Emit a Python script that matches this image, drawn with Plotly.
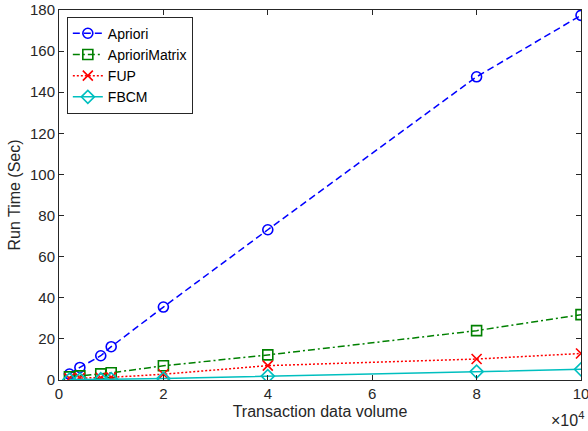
import plotly.graph_objects as go

x_vals = [2000, 4000, 8000, 10000, 20000, 40000, 80000, 100000]
apriori = [2.9, 6.1, 11.8, 16.2, 35.5, 73.1, 147.5, 177.4]
apriori_matrix = [1.5, 2.0, 3.0, 3.5, 6.9, 12.2, 24.0, 31.8]
fup = [0.8, 1.0, 1.1, 1.3, 2.8, 7.0, 10.2, 12.9]
fbcm = [0.2, 0.3, 0.4, 0.4, 0.7, 1.9, 4.1, 5.2]

x_ticks = [0, 20000, 40000, 60000, 80000, 100000]
x_tick_labels = ["0", "2", "4", "6", "8", "10"]
y_ticks = list(range(0, 181, 20))

series = [
    ("Apriori", apriori, "#0000ff", "7px,4px", "circle-open"),
    ("AprioriMatrix", apriori_matrix, "#008000", "7px,3px,2px,3px", "square-open"),
    ("FUP", fup, "#ff0000", "2px,2px", "x-thin-open"),
    ("FBCM", fbcm, "#00bfbf", "solid", "diamond-open"),
]

fig = go.Figure()
for name, ys, color, dash, sym in series:
    fig.add_trace(go.Scatter(
        x=x_vals, y=ys, name=name, mode="lines+markers",
        line=dict(color=color, dash=dash, width=1.5),
        marker=dict(symbol=sym, size=10, color=color,
                    line=dict(color=color, width=1.6)),
    ))

font_family = "Liberation Sans, Arial, sans-serif"
axis_common = dict(
    showline=True, linecolor="#262626", linewidth=1, mirror="ticks",
    ticks="inside", ticklen=5, tickcolor="#262626", showgrid=False,
    zeroline=False, automargin=False, ticklabeloverflow="allow",
    tickfont=dict(family=font_family, size=15, color="#262626"),
)

fig.update_layout(
    width=588, height=431,
    margin=dict(l=59, r=7, t=10, b=51, autoexpand=False),
    paper_bgcolor="white", plot_bgcolor="white",
    font=dict(family=font_family, color="#262626"),
    xaxis=dict(range=[0, 100000], tickvals=x_ticks, ticktext=x_tick_labels,
               title=dict(text="Transaction data volume", standoff=4,
                          font=dict(family=font_family, size=16, color="#262626")),
               **axis_common),
    yaxis=dict(range=[0, 180], tickvals=y_ticks,
               title=dict(text="Run Time (Sec)", standoff=5,
                          font=dict(family=font_family, size=16, color="#262626")),
               **axis_common),
    legend=dict(x=0.015, y=0.982, xanchor="left", yanchor="top",
                bgcolor="white", bordercolor="#262626", borderwidth=1,
                font=dict(family=font_family, size=14, color="black"),
                itemwidth=30, tracegroupgap=0),
    showlegend=True,
)

fig.add_annotation(
    x=1.0, y=0, xref="paper", yref="paper", xanchor="right", yanchor="top",
    yshift=-27, xshift=5, showarrow=False,
    text="×10<sup>4</sup>", font=dict(family=font_family, size=16, color="#262626"),
)

fig.write_html("out.html", config={"displayModeBar": False},
               post_script="document.body.style.margin='0px';document.body.style.overflow='hidden';")
